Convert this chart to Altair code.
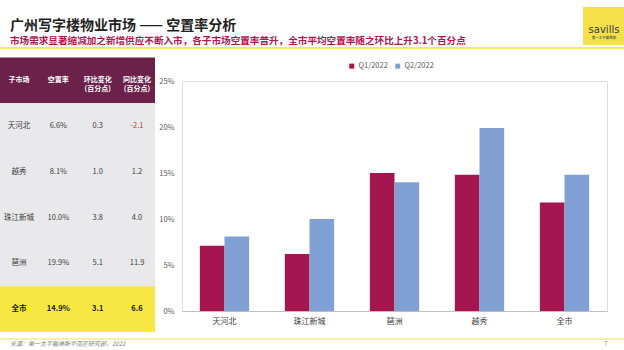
import altair as alt
import pandas as pd

FONT = "Noto Sans CJK SC"

# ---------------- data ----------------
categories = ["天河北", "珠江新城", "琶洲", "越秀", "全市"]
q1_values = [7.1, 6.2, 15.0, 14.8, 11.8]
q2_values = [8.1, 10.0, 14.0, 19.9, 14.8]
series = ["Q1/2022", "Q2/2022"]
y_ticks = [0, 0.05, 0.10, 0.15, 0.20, 0.25]

table_header = ["子市场", "空置率", "环比变化\n(百分点)", "同比变化\n(百分点)"]
table_sub = ["天河北", "越秀", "珠江新城", "琶洲", "全市"]
table_rate = ["6.6%", "8.1%", "10.0%", "19.9%", "14.9%"]
table_qoq = ["0.3", "1.0", "3.8", "5.1", "3.1"]
table_yoy = ["-2.1", "1.2", "4.0", "11.9", "6.6"]

title_text = "广州写字楼物业市场 —— 空置率分析"
subtitle_text = "市场需求显著缩减加之新增供应不断入市，各子市场空置率普升，全市平均空置率随之环比上升3.1个百分点"
source_text = "来源：第一太平戴维斯华南区研究部，2022"
page_no = "7"

# ---------------- frames ----------------
bars = pd.DataFrame(
    [{"cat": c, "series": series[0], "v": v / 100} for c, v in zip(categories, q1_values)]
    + [{"cat": c, "series": series[1], "v": v / 100} for c, v in zip(categories, q2_values)]
)

cells = []
for j, h in enumerate(table_header):
    cells.append({"row": -1, "col": j, "t": h, "kind": "head", "c": "#FFFFFF"})
n = len(table_sub)
for i in range(n):
    kind = "total" if i == n - 1 else "body"
    vals = [table_sub[i], table_rate[i], table_qoq[i], table_yoy[i]]
    for j, t in enumerate(vals):
        col = "#404040"
        if kind == "body" and t.startswith("-"):
            col = "#C0392B"
        if kind == "total":
            col = "#1A1A1A"
        cells.append({"row": i, "col": j, "t": t, "kind": kind, "c": col})
cells = pd.DataFrame(cells)

bands = pd.DataFrame([
    {"y0": -1.5, "y1": -0.5, "fill": "#6B2149"},
    {"y0": -0.5, "y1": n - 1.5, "fill": "#E9E9EB"},
    {"y0": n - 1.5, "y1": n - 0.5, "fill": "#F7E743"},
])

# ---------------- table scales (outside plot area, in left padding) ----------------
row_scale = alt.Scale(domain=[0, 4], range=[45, 228])
col_scale = alt.Scale(domain=[0, 3], range=[-163, -45])

table_bg = alt.Chart(bands).mark_rect().encode(
    x=alt.value(-182), x2=alt.value(-27),
    y=alt.Y("y0:Q", scale=row_scale, axis=None),
    y2="y1:Q",
    color=alt.Color("fill:N", scale=None),
)

def table_text(kind, size, weight):
    return alt.Chart(cells).transform_filter(alt.datum.kind == kind).mark_text(
        font=FONT, fontSize=size, fontWeight=weight, lineBreak="\n", baseline="middle"
    ).encode(
        x=alt.X("col:Q", scale=col_scale, axis=None),
        y=alt.Y("row:Q", scale=row_scale, axis=None),
        text="t:N",
        color=alt.Color("c:N", scale=None),
    )

table = alt.layer(
    table_bg,
    table_text("head", 7, "bold"),
    table_text("body", 7.5, "normal"),
    table_text("total", 7.5, "bold"),
)

# ---------------- bar chart ----------------
bar = alt.Chart(bars).mark_bar().encode(
    x=alt.X("cat:N", sort=categories, title=None,
            scale=alt.Scale(paddingInner=0.42, paddingOuter=0.21),
            axis=alt.Axis(labelAngle=0, labelFontSize=8, labelColor="#404040",
                          ticks=False, domainColor="#BFBFBF", labelPadding=6,
                          labelFont=FONT)),
    xOffset=alt.XOffset("series:N", sort=series),
    y=alt.Y("v:Q", scale=alt.Scale(domain=[0, 0.25]), title=None,
            axis=alt.Axis(values=y_ticks, format=".0%", labelFontSize=7.5,
                          labelColor="#595959", domain=False, ticks=False,
                          gridColor="#DDDDDD", labelPadding=8, labelFont=FONT)),
    color=alt.Color("series:N", sort=series,
                    scale=alt.Scale(domain=series, range=["#A3164F", "#809FD2"]),
                    legend=alt.Legend(orient="none", legendX=166, legendY=-19,
                                      direction="horizontal", title=None,
                                      symbolType="square", symbolSize=25,
                                      labelFontSize=7.5, labelColor="#595959",
                                      labelFont=FONT, columnPadding=6,
                                      labelOffset=3)),
)

# ---------------- decorations ----------------
deco_df = pd.DataFrame({"k": [0]})
title = alt.Chart(deco_df).mark_text(
    font=FONT, fontSize=14, fontWeight="bold", align="left", baseline="alphabetic",
    color="#1F1F1F",
).encode(x=alt.value(-172), y=alt.value(-51), text=alt.value(title_text))

subtitle = alt.Chart(deco_df).mark_text(
    font=FONT, fontSize=9.6, fontWeight="bold", align="left", baseline="alphabetic",
    color="#B0154C",
).encode(x=alt.value(-172), y=alt.value(-37.5), text=alt.value(subtitle_text))

top_line = alt.Chart(deco_df).mark_rule(color="#F3E66B", strokeWidth=2).encode(
    x=alt.value(-182), x2=alt.value(442), y=alt.value(-33))
bottom_line = alt.Chart(deco_df).mark_rule(color="#F5EC8A", strokeWidth=1.5).encode(
    x=alt.value(-182), x2=alt.value(442), y=alt.value(258))

logo = alt.Chart(deco_df).mark_rect(color="#F6E04A").encode(
    x=alt.value(401), x2=alt.value(442), y=alt.value(-74), y2=alt.value(-36))
logo_text = alt.Chart(deco_df).mark_text(
    font="DejaVu Sans", fontSize=10, color="#3A3A3A", align="center", baseline="alphabetic"
).encode(x=alt.value(422), y=alt.value(-48), text=alt.value("savills"))
logo_sub = alt.Chart(deco_df).mark_text(
    font=FONT, fontSize=3.5, color="#3A3A3A", align="center", baseline="alphabetic"
).encode(x=alt.value(422), y=alt.value(-42), text=alt.value("第一太平戴维斯"))

source = alt.Chart(deco_df).mark_text(
    font=FONT, fontSize=6, fontStyle="italic", color="#7F7F7F", align="left",
    baseline="middle",
).encode(x=alt.value(-172), y=alt.value(263), text=alt.value(source_text))
page = alt.Chart(deco_df).mark_text(
    font=FONT, fontSize=6, color="#7F7F7F", align="center", baseline="middle",
).encode(x=alt.value(424), y=alt.value(263), text=alt.value(page_no))

chart = alt.layer(
    table, bar, title, subtitle, top_line, bottom_line, logo, logo_text, logo_sub,
    source, page,
).resolve_scale(x="independent", y="independent", color="independent").properties(
    width=425, height=230,
    padding={"left": 182, "top": 81, "right": 17, "bottom": 39},
    autosize=alt.AutoSizeParams(type="none"),
    background="#FFFFFF",
).configure_view(stroke=None).configure(font=FONT)

chart.save("out.html", embed_options={"renderer": "svg", "actions": False})
